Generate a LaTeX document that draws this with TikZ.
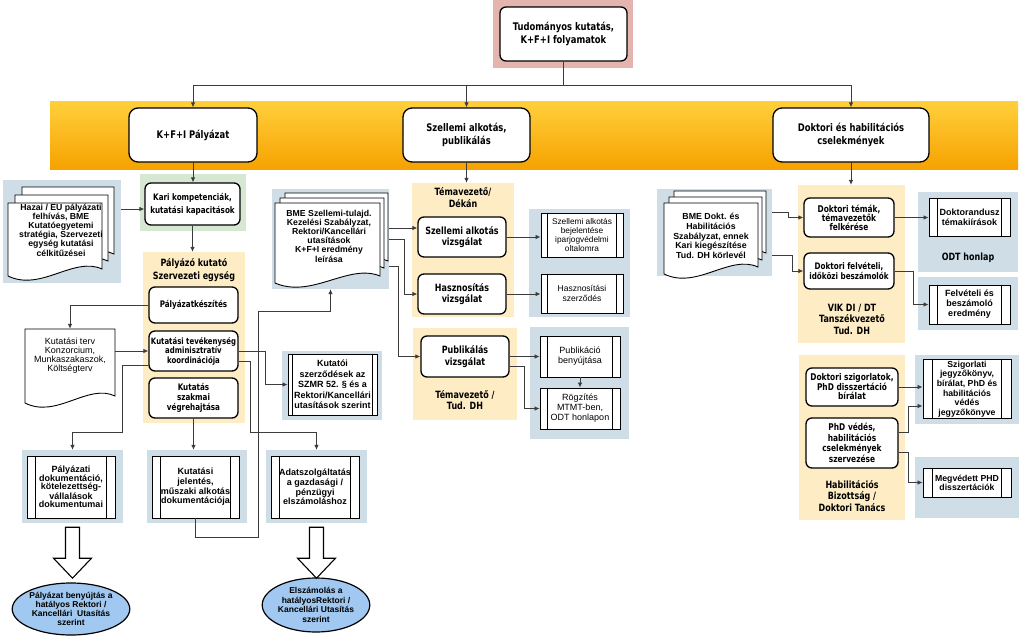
\documentclass[tikz,border=0pt]{standalone}
\usepackage{fontspec}
\newfontfamily\vf{DejaVu Sans}[FakeStretch=0.8]
\newfontfamily\hf{Liberation Sans}
\usetikzlibrary{arrows.meta,shapes.geometric}
\definecolor{bluegrey}{RGB}{207,222,230}
\definecolor{cream}{RGB}{253,236,196}
\definecolor{greenbg}{RGB}{214,232,210}
\definecolor{pinkbg}{RGB}{228,181,174}
\definecolor{bandtop}{RGB}{255,208,60}
\definecolor{bandbot}{RGB}{246,162,0}
\definecolor{ellblue}{RGB}{160,200,240}
\definecolor{lin}{RGB}{60,60,60}
\newcommand\mk[7][]{%
  \pgfmathsetmacro\mkcx{(#3+#5)/2}%
  \pgfmathsetmacro\mkcy{(#4+#6)/2}%
  \pgfmathsetmacro\mkw{#5-#3}%
  \pgfmathsetmacro\mkh{#6-#4}%
  \node[#1, minimum width=\mkw pt, minimum height=\mkh pt] (#2) at (\mkcx,\mkcy) {#7};}
\newcommand\sides[2]{\draw[line width=0.9pt, draw=black]
  ([xshift=#2pt]#1.north west) -- ([xshift=#2pt]#1.south west)
  ([xshift=-#2pt]#1.north east) -- ([xshift=-#2pt]#1.south east);}
\newcommand\dpage[4]{%
  \pgfmathsetmacro\dpw{#3-#1}%
  \filldraw[fill=white, draw=black, line width=0.9pt] (#1,#2) -- (#3,#2) -- (#3,{#4-7})
    .. controls ({#3-0.3*\dpw},{#4-20}) and ({#1+0.35*\dpw},{#4+16}) .. (#1,#4) -- cycle;}
\tikzset{
 vfs/.style 2 args={font=\vf\bfseries\fontsize{#1}{#2}\selectfont},
 hfs/.style 2 args={font=\hf\bfseries\fontsize{#1}{#2}\selectfont},
 hfn/.style 2 args={font=\hf\fontsize{#1}{#2}\selectfont},
 rbox/.style={draw=black, line width=1.3pt, rounded corners=6pt, fill=white, align=center, inner sep=1pt, vfs={9}{10.5}},
 bandbox/.style={rbox, rounded corners=9pt, vfs={10.5}{12.5}},
 proc/.style={draw=black, line width=0.9pt, fill=white, align=center, inner sep=1pt, hfs={9}{9.5}},
 bgbox/.style={fill=bluegrey, draw=none, inner sep=0},
 creambox/.style={fill=cream, draw=none, inner sep=0},
 grouptitle/.style={align=center, inner sep=0, vfs={10}{12.5}},
 doctext/.style={align=center, inner sep=0, hfs={8.5}{8}},
 arr/.style={draw=lin, line width=0.8pt, -{Latex[length=5pt,width=4.5pt]}},
 bigarrow/.style={draw=black, line width=1.1pt, fill=white, line join=miter},
 ell/.style={ellipse, draw=black, line width=1.2pt, fill=ellblue, align=center, inner sep=0, hfs={8.5}{9}},
}
\begin{document}
\begin{tikzpicture}[x=1pt,y=-1pt]
\useasboundingbox (0,0) rectangle (1023,637);
\fill[white] (0,0) rectangle (1023,637);
% band
\shade[top color=bandtop,bottom color=bandbot] (50,101) rectangle (1018,169);
% backgrounds
\mk[fill=pinkbg,inner sep=0]{topbg}{493}{0}{633}{68}{}
\mk[bgbox]{hazai}{3}{180}{121}{283}{}
\mk[fill=greenbg,inner sep=0]{karibg}{140}{174}{246}{231}{}
\mk[creambox]{pkse}{143}{252}{245}{423}{}
\mk[bgbox]{paldokbg}{22}{450}{123}{523}{}
\mk[bgbox]{kjelbg}{147}{450}{247}{523}{}
\mk[bgbox]{adatbg}{266}{450}{367}{523}{}
\mk[bgbox]{kutszbg}{282}{351}{382}{420}{}
\mk[bgbox]{bmesz}{272}{189}{389}{289}{}
\mk[creambox]{tdbg}{412}{183}{514}{317}{}
\mk[creambox]{pubbg}{413}{328}{517}{420}{}
\mk[bgbox]{outbga}{529}{209}{630}{317}{}
\mk[bgbox]{outbgb}{530}{327}{629}{439}{}
\mk[bgbox]{bmed}{657}{189}{772}{276}{}
\mk[creambox]{vikbg}{798}{185}{905}{343}{}
\mk[bgbox]{odtbg}{918}{192}{1018}{272}{}
\mk[bgbox]{felvbg}{918}{277}{1018}{330}{}
\mk[creambox]{habbg}{799}{355}{905}{520}{}
\mk[bgbox]{szigbg}{915}{355}{1019}{424}{}
\mk[bgbox]{megvbg}{915}{457}{1019}{518}{}
% document shapes
\dpage{22}{187}{114}{261}
\dpage{15}{195}{108}{268}
\dpage{8}{203}{102}{276}
\node[doctext, hfs={8.7}{9.2}] (hazait) at (61,230) {Hazai / EU pályázati\\felhívás, BME\\Kutatóegyetemi\\stratégia, Szervezeti\\egység kutatási\\célkitűzései};
\mk[inner sep=0]{kterv}{25}{329}{115}{400}{}
\dpage{25}{329}{115}{403}
\node[doctext, hfn={9}{9}] (ktervt) at (70,356) {Kutatási terv\\Konzorcium,\\Munkaszakaszok,\\Költségterv};
\dpage{285}{193}{388}{268}
\dpage{280}{198}{384}{275}
\dpage{275}{203}{380}{283}
\node[doctext, hfs={8.7}{9.2}] (bmeszt) at (329,236) {BME Szellemi-tulajd.\\Kezelési Szabályzat,\\Rektori/Kancellári\\utasítások\\K+F+I eredmény\\leírása};
\dpage{674}{191}{766}{260}
\dpage{669}{197}{762}{267}
\dpage{664}{203}{758}{274}
\node[doctext, hfs={8.8}{9.7}] (bmedt) at (711,236) {BME Dokt. és\\Habilitációs\\Szabályzat, ennek\\Kari kiegészítése\\Tud. DH körlevél};
% top and band boxes
\mk[rbox, vfs={10.5}{12.5}]{top}{500}{7}{627}{61}{Tudományos kutatás,\\K+F+I folyamatok}
\mk[bandbox]{kfi}{129}{108}{257}{162}{K+F+I Pályázat}
\mk[bandbox]{szell}{403}{108}{530}{162}{Szellemi alkotás,\\publikálás}
\mk[bandbox]{dokt}{773}{108}{929}{162}{Doktori és habilitációs\\cselekmények}
% left column
\mk[rbox, vfs={9}{13}]{kari}{145}{183}{240}{225}{Kari kompetenciák,\\kutatási kapacitások}
\node[grouptitle] (pkset) at (194,270) {Pályázó kutató\\Szervezeti egység};
\mk[rbox]{palyk}{149}{287}{238}{323}{Pályázatkészítés}
\mk[rbox, vfs={8.7}{9.5}]{koord}{149}{331}{238}{371}{Kutatási tevékenység\\adminisztratív\\koordinációja}
\mk[rbox, vfs={9}{10}]{szakm}{149}{378}{238}{418}{Kutatás\\szakmai\\végrehajtása}
\mk[proc, hfs={9}{8.5}]{paldok}{27}{456}{115}{518}{Pályázati\\dokumentáció,\\kötelezettség-\\vállalások\\dokumentumai}
\sides{paldok}{9}
\mk[proc, hfs={9}{9.7}]{kjel}{152}{456}{239}{518}{Kutatási\\jelentés,\\műszaki alkotás\\dokumentációja}
\sides{kjel}{9}
\mk[proc, hfs={9}{9.7}]{adat}{271}{456}{359}{518}{Adatszolgáltatás\\a gazdasági /\\pénzügyi\\elszámoláshoz}
\sides{adat}{9}
\mk[proc, hfs={9}{10.5}]{kutsz}{288}{354}{377}{415}{Kutatói\\szerződések az\\SZMR 52. § és a\\Rektori/Kancellári\\utasítások szerint}
\sides{kutsz}{5}
\node[ell, minimum width=100pt, minimum height=52pt] (pbeny) at (71,609) {Pályázat benyújtás a\\hatályos Rektori /\\Kancellári\ \ Utasítás\\szerint};
\node[ell, hfs={8.5}{9.7}, minimum width=100pt, minimum height=54pt] (elsz) at (316,605) {Elszámolás a\\hatályosRektori /\\Kancellári Utasítás\\szerint};
% middle column
\node[grouptitle, vfs={10}{12}] (tdt) at (463,198) {Témavezető/\\Dékán};
\mk[rbox, vfs={10}{11.5}]{szv}{418}{217}{506}{257}{Szellemi alkotás\\vizsgálat}
\mk[rbox, vfs={10}{11.5}]{has}{418}{274}{506}{314}{Hasznosítás\\vizsgálat}
\mk[rbox, vfs={10}{11.5}]{publ}{421}{336}{509}{377}{Publikálás\\vizsgálat}
\node[grouptitle, vfs={10}{11.5}] (pubt) at (465,400) {Témavezető /\\Tud. DH};
\mk[proc, hfn={8.3}{9}]{sbej}{541}{213}{623}{257}{Szellemi alkotás\\bejelentése\\iparjogvédelmi\\oltalomra}
\sides{sbej}{7}
\mk[proc, hfn={8.5}{10}]{hszer}{541}{274}{623}{313}{Hasznosítási\\szerződés}
\sides{hszer}{7}
\mk[proc, hfn={9}{10}]{pben}{540}{336}{620}{377}{Publikáció\\benyújtása}
\sides{pben}{8}
\mk[proc, hfn={9}{10}]{rogz}{540}{388}{620}{429}{Rögzítés\\MTMT-ben,\\ODT honlapon}
\sides{rogz}{8}
% right column
\node[grouptitle, vfs={10}{11.5}] (vikt) at (852,319) {VIK DI / DT\\Tanszékvezető\\Tud. DH};
\mk[rbox, vfs={9.3}{9}]{dtem}{804}{198}{894}{237}{Doktori témák,\\témavezetők\\felkérése}
\mk[rbox, vfs={9}{9.5}]{dfel}{804}{253}{894}{289}{Doktori felvételi,\\időközi beszámolók}
\mk[proc, hfs={9}{10}]{dtk}{929}{198}{1010}{236}{Doktorandusz\\témakiírások}
\sides{dtk}{9}
\node[grouptitle] (odt) at (968,258) {ODT honlap};
\mk[proc, hfs={9}{10}]{fer}{929}{285}{1010}{324}{Felvételi és\\beszámoló\\eredmény}
\sides{fer}{9}
\mk[rbox, vfs={9.3}{9.5}]{dszig}{806}{368}{898}{406}{Doktori szigorlatok,\\PhD disszertáció\\bírálat}
\mk[rbox, vfs={9.3}{10.5}]{phd}{806}{418}{898}{468}{PhD védés,\\habilitációs\\cselekmények\\szervezése}
\node[grouptitle, vfs={10}{11.5}] (habt) at (852,496) {Habilitációs\\Bizottság /\\Doktori Tanács};
\mk[proc, hfs={8.7}{9.6}]{szj}{923}{360}{1011}{418}{Szigorlati\\jegyzőkönyv,\\bírálat, PhD és\\habilitációs\\védés\\jegyzőkönyve}
\sides{szj}{10}
\mk[proc, hfs={8.7}{8.7}]{mphd}{923}{468}{1011}{497}{Megvédett PHD\\disszertációk}
\sides{mphd}{10}
% connectors top
\draw[arr] (top.south) -- ++(0,24) -| (kfi.north);
\draw[arr] (top.south) -- ++(0,24) -| (szell.north);
\draw[arr] (top.south) -- ++(0,24) -| (dokt.north);
% left connectors
\draw[arr] (kfi.south) -- (kfi.south |- kari.north);
\coordinate (k1) at ([yshift=-5pt]kari.west);
\draw[arr] (hazai.east |- k1) -- (k1);
\draw[arr] (kari.south) -- (kari.south |- pkse.north);
\draw[arr] (palyk.west) -| (kterv.north);
\draw[arr] (kterv.east |- koord.west) -- (koord.west);
\coordinate (c1) at ([yshift=-14pt]koord.west);
\coordinate (c1b) at ([yshift=17pt]paldokbg.north);
\draw[arr] (c1) -- ++(-26,0) |- (c1b) -- (paldokbg.north);
\draw[arr] (szakm.south) -- (szakm.south |- kjelbg.north);
\draw[arr] (koord.east) -- ++(27,0) |- (kutsz.west);
\coordinate (c2) at ([yshift=-10pt]koord.east);
\coordinate (c2b) at ([yshift=17pt]adatbg.north);
\draw[arr] (c2) -- ++(12,0) |- (c2b) -- (adatbg.north);
\coordinate (c3) at ([yshift=-22pt]bmesz.south);
\draw[arr] (kjel.south) -- ++(0,19) -- ++(62.5,0) |- (c3) -- (bmesz.south);
% big hollow arrows
\coordinate (ba1) at ([yshift=-4pt]paldokbg.south);
\draw[bigarrow] (ba1) ++(-7,0) -- ++(14,0) -- ++(0,31) -- ++(12,0) -- ++(-19,20) -- ++(-19,-20) -- ++(12,0) -- cycle;
\coordinate (ba2) at ([yshift=-4pt]adatbg.south);
\draw[bigarrow] (ba2) ++(-7,0) -- ++(14,0) -- ++(0,31) -- ++(12,0) -- ++(-19,20) -- ++(-19,-20) -- ++(12,0) -- cycle;
% middle connectors
\draw[arr] (szell.south) -- (szell.south |- tdbg.north);
\coordinate (m1) at ([yshift=9pt]szv.west);
\draw[arr] (bmesz.east |- m1) -- (m1);
\draw[arr] (bmesz.east) -- ++(15,0) |- (has.west);
\coordinate (m2) at ([yshift=-27pt]bmesz.east);
\draw[arr] (m2) -- ++(9,0) |- (publ.west);
\draw[arr] (szv.east) -- (szv.east -| sbej.west);
\draw[arr] (has.east) -- (has.east -| hszer.west);
\draw[arr] (publ.east) -- (publ.east -| pben.west);
\coordinate (p2) at ([yshift=-10pt]publ.east);
\draw[arr] (p2) -- ++(15,0) |- (rogz.west);
\draw[arr] (pben.south) -- (rogz.north);
% right connectors
\draw[arr] (dokt.south) -- (dokt.south |- vikbg.north);
\coordinate (d1) at ([yshift=20pt]bmed.east);
\draw[arr] (d1) -- ++(16,0) |- (dtem.west);
\coordinate (d2) at ([yshift=-23pt]bmed.east);
\draw[arr] (d2) -- ++(20,0) |- (dfel.west);
\draw[arr] (dtem.east) -- (dtem.east -| dtk.west);
\draw[arr] (dfel.east) -- ++(19,0) |- (fer.west);
\draw[arr] (dszig.east) -- (dszig.east -| szj.west);
\coordinate (h1) at ([yshift=11pt]phd.east);
\coordinate (h2) at ([yshift=-17pt]szj.west);
\draw[arr] (h1) -- ++(10,0) |- (h2);
\coordinate (h3) at ([yshift=-9pt]phd.east);
\draw[arr] (h3) -- ++(10,0) |- (mphd.west);
\end{tikzpicture}
\end{document}
